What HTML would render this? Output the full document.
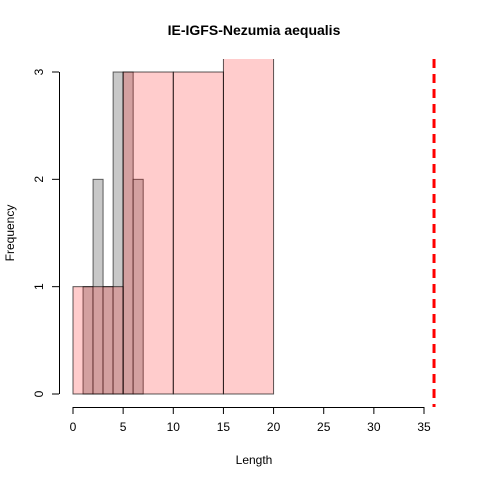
<!DOCTYPE html>
<html><head><meta charset="utf-8"><style>body{margin:0;background:#fff}svg{font-family:"Liberation Sans",Arial,sans-serif}</style></head>
<body>
<svg id="c" width="480" height="480">
<defs><clipPath id="pr"><rect x="59" y="59" width="375" height="348"/></clipPath></defs>
<text x="254" y="35" text-anchor="middle" font-weight="bold" font-size="14">IE-IGFS-Nezumia aequalis</text>
<text x="254" y="464" text-anchor="middle" font-size="12">Length</text>
<text transform="translate(14,233) rotate(-90)" text-anchor="middle" font-size="12">Frequency</text>
<g id="bars" clip-path="url(#pr)"></g>
<g id="axes"></g>
</svg>
<script>
const greyBreaks=[1,2,3,4,5,6,7];
const greyCounts=[1,2,1,3,3,2];
const pinkBreaks=[0,5,10,15,20];
const pinkCounts=[1,3,3,4];
const xTicks=[0,5,10,15,20,25,30,35];
const yTicks=[0,1,2,3];
const refLine=36;
const X=v=>73+v*(424-73)/35, Y=v=>394-v*(394-72)/3;
const NS="http://www.w3.org/2000/svg";
const bars=document.getElementById('bars'), axes=document.getElementById('axes');
function mk(p,t,a){const e=document.createElementNS(NS,t);for(const k in a)e.setAttribute(k,a[k]);p.appendChild(e);return e;}
greyCounts.forEach((c,i)=>{const r=mk(bars,'rect',{x:X(greyBreaks[i]),y:Y(c),width:X(greyBreaks[i+1])-X(greyBreaks[i]),height:Y(0)-Y(c),fill:'#c8c8c8',stroke:'rgba(0,0,0,0.6)','stroke-width':1});

});
pinkCounts.forEach((c,i)=>{const r=mk(bars,'rect',{x:X(pinkBreaks[i]),y:Y(c),width:X(pinkBreaks[i+1])-X(pinkBreaks[i]),height:Y(0)-Y(c),fill:'rgba(255,0,0,0.2)',stroke:'rgba(0,0,0,0.65)','stroke-width':1});

});
const l=mk(axes,'line',{x1:X(refLine),x2:X(refLine),y1:59,y2:407,stroke:'#f00','stroke-width':3,'stroke-dasharray':'9,6'});


mk(axes,'line',{x1:X(0),x2:X(35),y1:407.5,y2:407.5,stroke:'#000'});
xTicks.forEach(t=>{mk(axes,'line',{x1:X(t),x2:X(t),y1:407,y2:414,stroke:'#000'});const tx=mk(axes,'text',{x:X(t),y:431,'text-anchor':'middle','font-size':12});tx.textContent=t;

});
mk(axes,'line',{x1:59.5,x2:59.5,y1:Y(0),y2:Y(3),stroke:'#000'});
yTicks.forEach(t=>{mk(axes,'line',{x1:52,x2:59,y1:Y(t),y2:Y(t),stroke:'#000'});const tx=mk(axes,'text',{transform:`translate(43,${Y(t)}) rotate(-90)`,'text-anchor':'middle','font-size':12});tx.textContent=t;

});
</script>
</body></html>
